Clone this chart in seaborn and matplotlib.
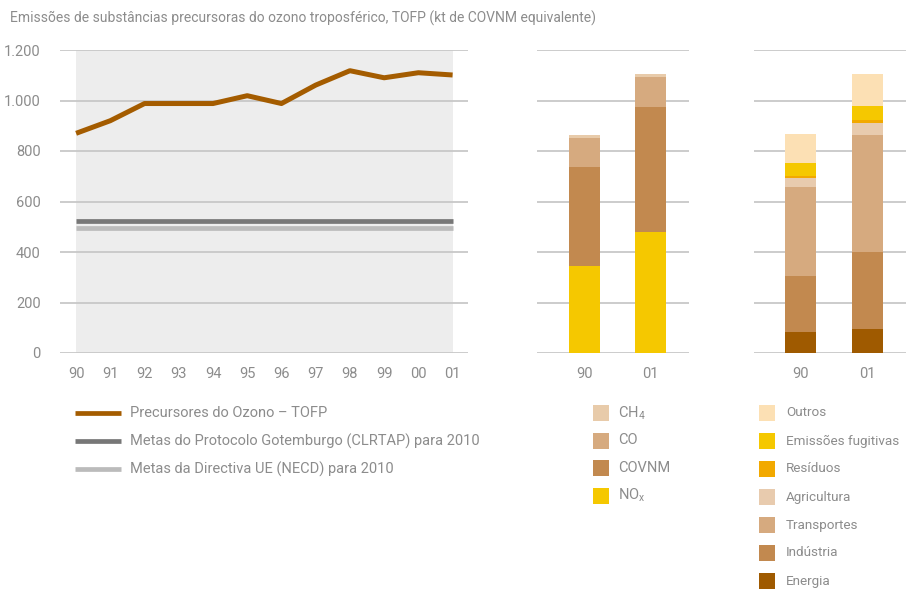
import numpy as np
import pandas as pd
import matplotlib
matplotlib.use('Agg')
import matplotlib.pyplot as plt
from matplotlib.patches import Rectangle
from matplotlib.lines import Line2D
import seaborn as sns

# dados
anos = ['90', '91', '92', '93', '94', '95', '96', '97', '98', '99', '00', '01']
tofp = [870, 920, 988, 988, 988, 1019, 988, 1061, 1118, 1090, 1110, 1101]
meta_gotemburgo = 523
meta_necd = 494

anos_barras = ['90', '01']
# por poluente
nox = [344, 480]
covnm = [393, 494]
co = [115, 119]
ch4 = [11, 13]
# por sector
energia = [82, 94]
industria = [222, 305]
transportes = [353, 464]
agricultura = [37, 47]
residuos = [6, 12]
fugitivas = [52, 56]
outros = [115, 128]

sns.set_theme(style='white')
plt.rcParams['font.family'] = ['Roboto', 'DejaVu Sans']
plt.rcParams['mathtext.default'] = 'regular'

cinza_txt = '#8c8c8c'
cinza_grid = '#c8c8c8'
fs = 10.5

W, H = 906, 592
fig = plt.figure(figsize=(W / 100, H / 100), dpi=100)


def px_axes(x0, y0, x1, y1):
    return fig.add_axes([x0 / W, 1 - y1 / H, (x1 - x0) / W, (y1 - y0) / H])


ax1 = px_axes(60, 50, 468, 353)
ax2 = px_axes(537, 50, 689, 353)
ax3 = px_axes(754, 50, 906, 353)

yticks = np.arange(0, 1201, 200)
for ax in (ax1, ax2, ax3):
    ax.set_ylim(0, 1200)
    for s in ax.spines.values():
        s.set_visible(False)
    for y in yticks:
        ax.axhline(y, color=cinza_grid, lw=1.3, zorder=1)
    ax.tick_params(length=0, colors=cinza_txt, labelsize=fs)
    ax.set_yticks(yticks)
    ax.set_facecolor('none')

# grafico de linhas
df = pd.DataFrame({'ano': np.arange(len(anos)), 'tofp': tofp})
ax1.axvspan(0, len(anos) - 1, ymax=1, color='#ededed', zorder=0, lw=0)
ax1.plot(df['ano'], [meta_gotemburgo] * len(anos), color='#777777', lw=3.4,
         solid_capstyle='butt', zorder=2)
ax1.plot(df['ano'], [meta_necd] * len(anos), color='#bbbbbb', lw=3.4,
         solid_capstyle='butt', zorder=2)
sns.lineplot(data=df, x='ano', y='tofp', ax=ax1, color='#a45c00', lw=3.6, zorder=3)
ax1.lines[-1].set_solid_capstyle('butt')
ax1.set_xlim(-0.47, 11.45)
ax1.set_xticks(range(len(anos)))
ax1.set_xticklabels(anos)
ax1.set_yticklabels(['0', '200', '400', '600', '800', '1.000', '1.200'])
ax1.set_xlabel('')
ax1.set_ylabel('')
ax1.tick_params(axis='y', pad=14)
ax1.tick_params(axis='x', pad=10)

# barras empilhadas
def empilhar(ax, series, cores, largura):
    base = np.zeros(len(anos_barras))
    for vals, cor in zip(series, cores):
        ax.bar(range(len(anos_barras)), vals, bottom=base, width=largura,
               color=cor, lw=0, zorder=2)
        base = base + np.array(vals)
    ax.set_xticks(range(len(anos_barras)))
    ax.set_xticklabels(anos_barras)
    ax.set_yticklabels([])
    ax.tick_params(axis='x', pad=10)


cores_pol = ['#f5c800', '#c2894f', '#d6aa7f', '#e8cbaa']
empilhar(ax2, [nox, covnm, co, ch4], cores_pol, 0.47)
ax2.set_xlim(-0.72, 1.58)

cores_sec = ['#9f5a00', '#c2894f', '#d6aa7f', '#e8cbae', '#f2a900', '#f5c800', '#fce0b4']
empilhar(ax3, [energia, industria, transportes, agricultura, residuos, fugitivas, outros],
         cores_sec, 0.46)
ax3.set_xlim(-0.69, 1.57)

# titulo
fig.text(10 / W, 1 - 18 / H,
         'Emissões de substâncias precursoras do ozono troposférico, TOFP (kt de COVNM equivalente)',
         color=cinza_txt, fontsize=10, va='center', ha='left')

# legendas
leg_linhas = [('Precursores do Ozono – TOFP', '#a45c00'),
              ('Metas do Protocolo Gotemburgo (CLRTAP) para 2010', '#777777'),
              ('Metas da Directiva UE (NECD) para 2010', '#bbbbbb')]
for i, (txt, cor) in enumerate(leg_linhas):
    y = 413 + 28 * i
    fig.add_artist(Line2D([75 / W, 121 / W], [1 - y / H] * 2, color=cor, lw=3.4,
                          solid_capstyle='butt'))
    fig.text(130 / W, 1 - y / H, txt, color=cinza_txt, fontsize=fs, va='center')

leg_pol = [('CH$_4$', cores_pol[3]), ('CO', cores_pol[2]),
           ('COVNM', cores_pol[1]), ('NO$_x$', cores_pol[0])]
for i, (txt, cor) in enumerate(leg_pol):
    y = 413 + 27.5 * i
    fig.add_artist(Rectangle((593 / W, 1 - (y + 8) / H), 16 / W, 16 / H,
                             color=cor, lw=0))
    fig.text(618 / W, 1 - y / H, txt, color=cinza_txt, fontsize=fs, va='center')

leg_sec = [('Outros', cores_sec[6]), ('Emissões fugitivas', cores_sec[5]),
           ('Resíduos', cores_sec[4]), ('Agricultura', cores_sec[3]),
           ('Transportes', cores_sec[2]), ('Indústria', cores_sec[1]),
           ('Energia', cores_sec[0])]
for i, (txt, cor) in enumerate(leg_sec):
    y = 413 + 28 * i
    fig.add_artist(Rectangle((759 / W, 1 - (y + 8) / H), 16 / W, 16 / H,
                             color=cor, lw=0))
    fig.text(786 / W, 1 - y / H, txt, color=cinza_txt, fontsize=9.7, va='center')

fig.savefig('out.png', dpi=100)
